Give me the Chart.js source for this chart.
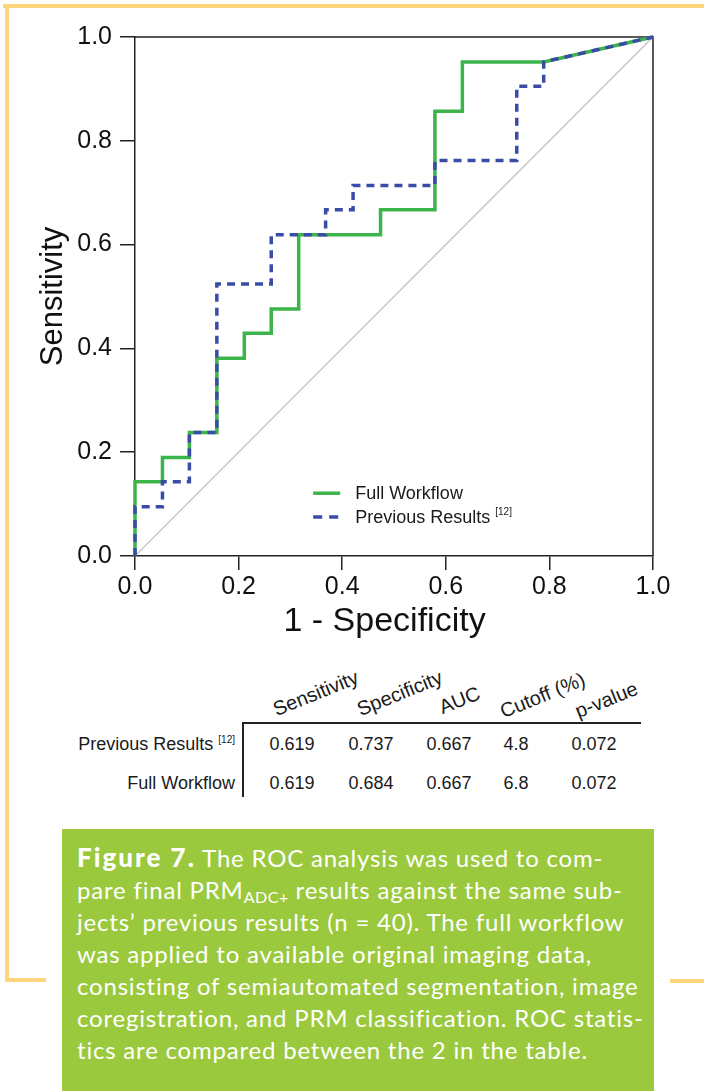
<!DOCTYPE html>
<html>
<head>
<meta charset="utf-8">
<script src="https://cdn.jsdelivr.net/npm/chart.js@4.4.1/dist/chart.umd.min.js"></script>
<style>
  body { margin: 0; background: #fff; }
  #page { position: relative; width: 704px; height: 1091px; overflow: hidden; font-family: "Liberation Sans", Arial, sans-serif; color: #1a1a1a; }
  .frame { position: absolute; background: #fed47c; }
  #chartBox { position: absolute; left: 0; top: 0; width: 704px; height: 660px; }
  .cell { position: absolute; font-size: 18px; line-height: 20px; white-space: nowrap; }
  .rowLabel { text-align: right; }
  .head { position: absolute; font-size: 20px; white-space: nowrap; transform-origin: 0 100%; transform: rotate(-22deg); line-height: 22px; }
  sup { font-size: 10px; vertical-align: 7px; line-height: 0; }
  #caption { position: absolute; left: 62px; top: 829px; width: 592px; height: 262px; background: #9bc93d; color: #fff;
             font-family: Lato, "Noto Sans", sans-serif; font-size: 24px; letter-spacing: 0.8px; line-height: 32px; padding: 12px 0 0 15px; box-sizing: border-box; white-space: nowrap; }
  #caption b { font-weight: 900; font-size: 26px; letter-spacing: 2px; }
  #caption sub { font-size: 16px; vertical-align: -4px; line-height: 0; letter-spacing: 0.5px; }
</style>
</head>
<body>
<div id="page">
  <div class="frame" style="left:3px;top:4px;width:701px;height:4px"></div>
  <div class="frame" style="left:5px;top:4px;width:4px;height:978px"></div>
  <div class="frame" style="left:5px;top:978px;width:41px;height:4px"></div>
  <div class="frame" style="left:670px;top:979px;width:34px;height:4px"></div>

  <div id="chartBox"><canvas id="roc" width="704" height="660"></canvas></div>
  <div id="table"></div>

  <div id="caption"><b>Figure 7.</b> The ROC analysis was used to com-<br>pare final PRM<sub>ADC+</sub> results against the same sub-<br>jects’ previous results (n = 40). The full workflow<br>was applied to available original imaging data,<br>consisting of semiautomated segmentation, image<br>coregistration, and PRM classification. ROC statis-<br>tics are compared between the 2 in the table.</div>
</div>
<script>
// ROC curve corner points (1 - specificity, sensitivity)
const fprFull = [0, 0, 0.053, 0.053, 0.105, 0.105, 0.158, 0.158, 0.211, 0.211, 0.263, 0.263, 0.316, 0.316, 0.474, 0.474, 0.579, 0.579, 0.632, 0.632, 0.789, 1.0];
const tprFull = [0, 0.143, 0.143, 0.190, 0.190, 0.238, 0.238, 0.381, 0.381, 0.429, 0.429, 0.476, 0.476, 0.619, 0.619, 0.667, 0.667, 0.857, 0.857, 0.952, 0.952, 1.0];

const fprPrev = [0, 0, 0.053, 0.053, 0.105, 0.105, 0.158, 0.158, 0.263, 0.263, 0.368, 0.368, 0.421, 0.421, 0.579, 0.579, 0.737, 0.737, 0.789, 0.789, 1.0];
const tprPrev = [0, 0.095, 0.095, 0.143, 0.143, 0.238, 0.238, 0.524, 0.524, 0.619, 0.619, 0.667, 0.667, 0.714, 0.714, 0.762, 0.762, 0.905, 0.905, 0.952, 1.0];

// chance line
const fprRef = [0, 1];
const tprRef = [0, 1];

const seriesNames = ['Full Workflow', 'Previous Results'];
const xTicks = [0, 0.2, 0.4, 0.6, 0.8, 1.0];

// statistics table
const tableCols = ['Sensitivity', 'Specificity', 'AUC', 'Cutoff (%)', 'p-value'];
const tableRows = ['Previous Results', 'Full Workflow'];
const tablePrev = ['0.619', '0.737', '0.667', '4.8', '0.072'];
const tableFull = ['0.619', '0.684', '0.667', '6.8', '0.072'];

const GREEN = '#3bb44a';
const BLUE = '#3a4ca6';
const FONT = '"Liberation Sans", Arial, sans-serif';

function toPoints(xs, ys) {
    return xs.map((x, i) => ({ x: x, y: ys[i] }));
}

// frame on top and right + legend inside the plot
const extras = {
    id: 'extras',
    beforeDatasetsDraw(chart) {
        const a = chart.chartArea;
        const ctx = chart.ctx;
        ctx.save();
        ctx.strokeStyle = '#222';
        ctx.lineWidth = 1.5;
        ctx.beginPath();
        ctx.moveTo(a.left, a.top);
        ctx.lineTo(a.right, a.top);
        ctx.lineTo(a.right, a.bottom);
        ctx.stroke();
        ctx.restore();
    },
    afterDraw(chart) {
        const a = chart.chartArea;
        const ctx = chart.ctx;
        const w = a.right - a.left, h = a.bottom - a.top;
        const x0 = a.left + 0.344 * w;
        const rows = [
            { y: a.bottom - 0.121 * h, color: GREEN, dash: [], text: seriesNames[0], sup: '' },
            { y: a.bottom - 0.075 * h, color: BLUE, dash: [9, 7], text: seriesNames[1], sup: '[12]' }
        ];
        ctx.save();
        rows.forEach(r => {
            ctx.strokeStyle = r.color;
            ctx.lineWidth = 3.5;
            ctx.setLineDash(r.dash);
            ctx.beginPath();
            ctx.moveTo(x0, r.y);
            ctx.lineTo(x0 + 27, r.y);
            ctx.stroke();
            ctx.setLineDash([]);
            ctx.fillStyle = '#1a1a1a';
            ctx.font = '18px ' + FONT;
            ctx.textBaseline = 'middle';
            ctx.fillText(r.text, x0 + 42, r.y + 1);
            if (r.sup) {
                const tw = ctx.measureText(r.text + ' ').width;
                ctx.font = '10px ' + FONT;
                ctx.fillText(r.sup, x0 + 42 + tw, r.y - 5);
            }
        });
        ctx.restore();
    }
};

new Chart(document.getElementById('roc'), {
    type: 'scatter',
    data: {
        datasets: [{
            label: seriesNames[1],
            data: toPoints(fprPrev, tprPrev),
            showLine: true,
            borderColor: BLUE,
            borderWidth: 3.5,
            borderDash: [8, 6],
            pointRadius: 0,
            clip: false
        }, {
            label: seriesNames[0],
            data: toPoints(fprFull, tprFull),
            showLine: true,
            borderColor: GREEN,
            borderWidth: 3.5,
            pointRadius: 0,
            clip: false
        }, {
            label: 'reference',
            data: toPoints(fprRef, tprRef),
            showLine: true,
            borderColor: '#c4c4c4',
            borderWidth: 1.3,
            pointRadius: 0
        }]
    },
    options: {
        responsive: false,
        animation: false,
        devicePixelRatio: 1,
        layout: { padding: { left: 35, right: 51, top: 37, bottom: 18 } },
        plugins: { legend: { display: false }, tooltip: { enabled: false } },
        scales: {
            x: {
                type: 'linear',
                min: 0,
                max: 1,
                afterBuildTicks: s => { s.ticks = xTicks.map(v => ({ value: v })); },
                afterFit: s => { s.height = 86; },
                ticks: { callback: v => v.toFixed(1), color: '#111', font: { family: FONT, size: 25 }, padding: 2, maxRotation: 0 },
                grid: { drawOnChartArea: false, drawTicks: true, tickLength: 14, color: '#222', lineWidth: 1.5 },
                border: { display: true, color: '#222', width: 1.5 },
                // trailing spaces nudge the centred title a little to the left, as in the original
                title: { display: true, text: '1 - Specificity  ', color: '#111', font: { family: FONT, size: 34 }, padding: 0 }
            },
            y: {
                type: 'linear',
                min: 0,
                max: 1,
                afterBuildTicks: s => { s.ticks = xTicks.map(v => ({ value: v })); },
                afterFit: s => { s.width = 100; },
                ticks: { callback: v => v.toFixed(1), color: '#111', font: { family: FONT, size: 25 }, padding: 8 },
                grid: { drawOnChartArea: false, drawTicks: true, tickLength: 15, color: '#222', lineWidth: 1.5 },
                border: { display: true, color: '#222', width: 1.5 },
                title: { display: true, text: 'Sensitivity', color: '#111', font: { family: FONT, size: 31 }, padding: 0 }
            }
        }
    },
    plugins: [extras]
});

// build the statistics table below the chart
(function buildTable() {
    const t = document.getElementById('table');
    const colCenters = [292, 371, 449, 516, 594];
    const headStarts = [[278, 698], [362, 698], [444, 696], [505, 700], [580, 700]];
    const rowY = [734, 773];
    let html = '';
    tableCols.forEach((c, i) => {
        html += '<div class="head" style="left:' + headStarts[i][0] + 'px;top:' + headStarts[i][1] + 'px">' + c + '</div>';
    });
    tableRows.forEach((r, j) => {
        const label = j === 0 ? r + ' <sup>[12]</sup>' : r;
        html += '<div class="cell rowLabel" style="right:' + (704 - 235) + 'px;top:' + rowY[j] + 'px">' + label + '</div>';
        const vals = j === 0 ? tablePrev : tableFull;
        vals.forEach((v, i) => {
            html += '<div class="cell" style="left:' + (colCenters[i] - 40) + 'px;width:80px;text-align:center;top:' + rowY[j] + 'px">' + v + '</div>';
        });
    });
    html += '<div style="position:absolute;left:243px;top:722px;width:398px;height:1.5px;background:#222"></div>';
    html += '<div style="position:absolute;left:242px;top:722px;width:1.5px;height:75px;background:#222"></div>';
    t.innerHTML = html;
})();
</script>
</body>
</html>
